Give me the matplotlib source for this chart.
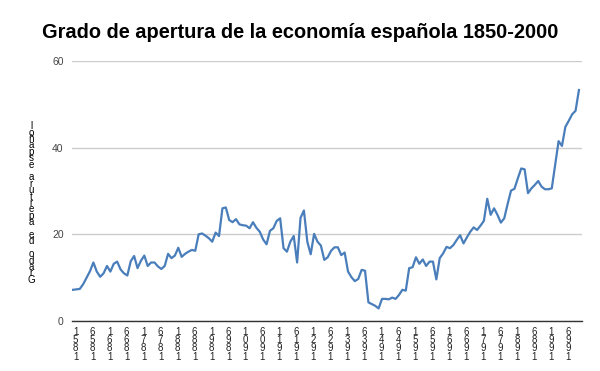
import matplotlib
matplotlib.use("Agg")
import matplotlib.pyplot as plt

plt.rcParams['font.family'] = ['Liberation Sans', 'DejaVu Sans']

titulo = "Grado de apertura de la economía española 1850-2000"
etiqueta_y = "Grado de apertura español"

anios = list(range(1851, 2001))
apertura = [
    7.2, 7.3, 7.4, 8.5, 10.0, 11.5, 13.5, 11.4, 10.2, 11.0,
    12.7, 11.4, 13.2, 13.7, 11.9, 11.0, 10.5, 13.8, 15.0, 12.2,
    13.9, 15.1, 12.7, 13.5, 13.5, 12.6, 12.0, 12.7, 15.5, 14.5,
    15.1, 16.9, 14.8, 15.5, 16.0, 16.4, 16.2, 20.0, 20.2, 19.7,
    19.1, 18.3, 20.4, 19.6, 26.0, 26.2, 23.3, 22.8, 23.5, 22.3,
    22.1, 22.0, 21.4, 22.8, 21.5, 20.6, 18.8, 17.7, 20.8, 21.4,
    23.1, 23.7, 16.8, 16.0, 18.3, 19.6, 13.5, 23.8, 25.5, 18.3,
    15.4, 20.1, 18.3, 17.4, 14.1, 14.7, 16.2, 17.0, 17.0, 15.2,
    15.8, 11.4, 10.1, 9.2, 9.7, 11.8, 11.6, 4.3, 3.9, 3.5,
    2.9, 5.1, 5.1, 5.0, 5.4, 5.1, 6.0, 7.2, 7.0, 12.2,
    12.4, 14.7, 13.2, 14.2, 12.7, 13.7, 13.7, 9.6, 14.5, 15.6,
    17.1, 16.8, 17.5, 18.7, 19.8, 17.9, 19.3, 20.6, 21.6, 21.0,
    22.0, 23.1, 28.2, 24.5, 26.0, 24.5, 22.7, 23.7, 27.0, 30.1,
    30.5, 32.9, 35.2, 35.0, 29.5, 30.6, 31.4, 32.3, 31.0, 30.4,
    30.4, 30.6, 36.0, 41.5, 40.4, 44.8, 46.2, 47.7, 48.5, 53.3,
]
ticks_y = [0, 20, 40, 60]
ticks_x = list(range(1851, 2001, 5))

fig = plt.figure(figsize=(6.0, 3.71), dpi=100)
ax = fig.add_axes([0.12, 0.1348, 0.85, 0.7008])

ax.plot(anios, apertura, color='#4a7ebb', linewidth=1.6)

ax.set_xlim(1850.7, 2000.9)
ax.set_ylim(0, 60)
ax.set_yticks(ticks_y)
ax.set_yticklabels([str(v) for v in ticks_y], fontsize=7.5, color='#444444')
ax.grid(axis='y', color='#cccccc', linewidth=1)
ax.set_axisbelow(True)
ax.tick_params(axis='both', length=0)
ax.tick_params(axis='y', pad=6)

# etiquetas de años apiladas, de abajo hacia arriba
ax.set_xticks(ticks_x)
ax.set_xticklabels(["\n".join(reversed(str(a))) for a in ticks_x],
                   fontsize=7, color='#222222', linespacing=0.8, ha='left')
ax.tick_params(axis='x', pad=4)

for s in ['top', 'right', 'left']:
    ax.spines[s].set_visible(False)
ax.spines['bottom'].set_color('#333333')
ax.spines['bottom'].set_linewidth(1)

fig.text(0.5, 1 - 32 / 371, titulo, ha='center', va='center',
         fontsize=14.4, fontweight='bold')
fig.text(31 / 600, 1 - 203 / 371, "\n".join(reversed(etiqueta_y)),
         ha='center', va='center', fontsize=7, linespacing=0.55)

fig.savefig("out.png", dpi=100)
